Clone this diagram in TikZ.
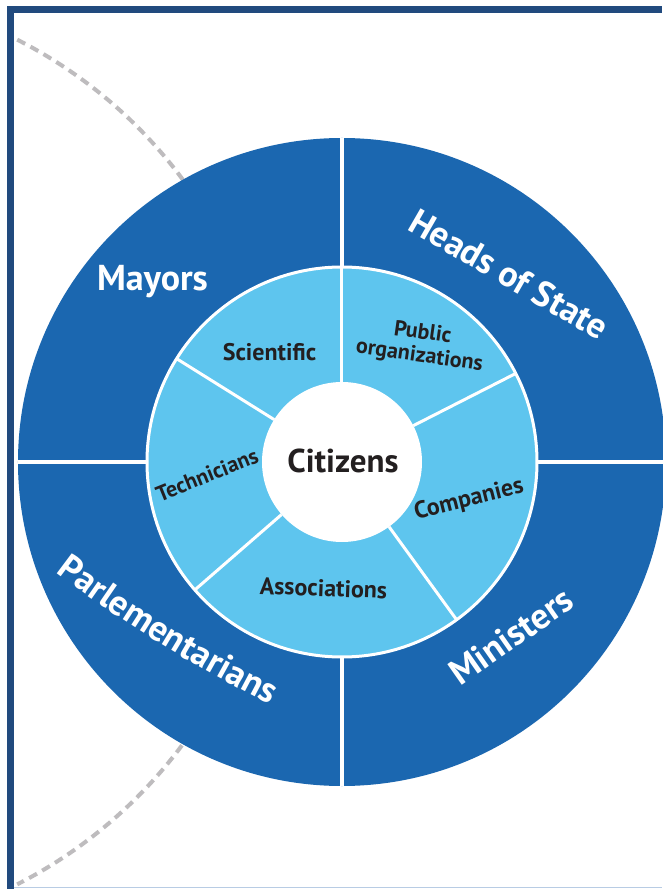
\documentclass[tikz,border=0pt]{standalone}
\usepackage{fontspec}
\setmainfont{PT Sans}
\usepackage{tikz}
\usetikzlibrary{decorations.text}
\definecolor{ringblue}{RGB}{27,103,176}
\definecolor{skyblue}{RGB}{94,197,238}
\definecolor{framecol}{RGB}{33,74,126}
\definecolor{framelight}{RGB}{184,204,228}
\definecolor{dashgray}{RGB}{190,188,190}
\definecolor{textdark}{RGB}{35,31,32}
\newcommand\outfont{\color{white}\bfseries\fontsize{36}{38}\selectfont}

\begin{document}
\begin{tikzpicture}[x=1pt,y=1pt,
    gap/.style={draw=white,line width=3.5pt},
    inlabel/.style={text=textdark,font=\bfseries\fontsize{24}{25}\selectfont,align=center,inner sep=0pt},
    outlabel/.style={text=white,font=\outfont,inner sep=0pt}]
  \useasboundingbox (-342,-427) rectangle (320,462);
  \fill[white] (-342,-427) rectangle (320,462);

  % dashed arc behind the rings
  \draw[dashgray,line width=4pt,dash pattern=on 9pt off 6pt] (-540,0) ++(63:474) arc[start angle=63,end angle=-63,radius=474];

  % frame
  \draw[framecol,line width=7pt] (-331.5,-427) -- (-331.5,452.5) -- (320,452.5);
  \draw[framelight,line width=1.5pt] (-328,-425.5) -- (320,-425.5);

  % outer ring, four quarters
  \fill[ringblue] (0,0) circle (324);
  \draw[gap] (0,-324) -- (0,324);
  \draw[gap] (-324,0) -- (324,0);

  % inner ring, five sectors
  \filldraw[fill=skyblue,draw=white,line width=3pt] (0,0) circle (195);
  \foreach \a in {90,27,-54,221,148}
    \draw[gap,line width=3pt] (\a:80) -- (\a:195);
  \fill[white] (0,0) circle (80);

  \node[inlabel,font=\bfseries\fontsize{33}{35}\selectfont] (citizens) at (1,1) {Citizens};
  \node[inlabel] (scientific) at (-72.5,110) {Scientific};
  \node[inlabel,font=\bfseries\fontsize{22}{23}\selectfont,rotate=-8] (public) at (79,117) {Public\\organizations};
  \node[inlabel,rotate=14] (companies) at (127,-38) {Companies};
  \node[inlabel,rotate=-2] (associations) at (-18.5,-126) {Associations};
  \node[inlabel,font=\bfseries\fontsize{22}{23}\selectfont,rotate=22] (technicians) at (-135,-13) {Technicians};

  % outer labels
  \node[outlabel,anchor=base] (mayors) at (-189.5,171) {Mayors};
  \node[outlabel,rotate=-30] (heads) at (167,188) {Heads of State};
  \node[outlabel,rotate=35] (ministers) at (169,-174) {Ministers};
  \path[decorate,decoration={text along path,text={|\outfont|Parlementarians},text align=center}]
    (-302,-98) .. controls (-234,-152) and (-152,-203) .. (-54,-252);
\end{tikzpicture}
\end{document}
